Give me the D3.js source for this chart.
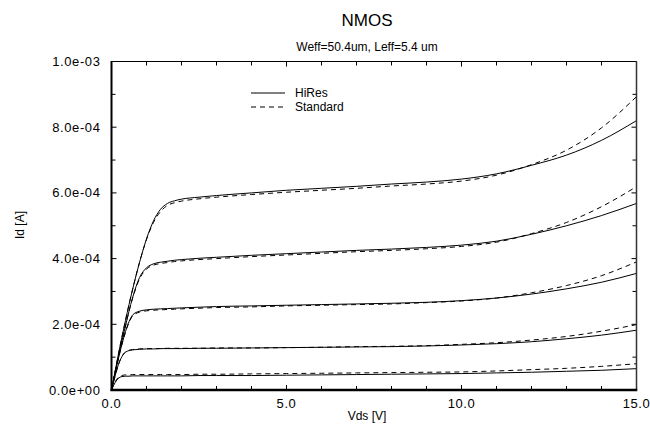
<!DOCTYPE html>
<html>
<head>
<meta charset="utf-8">
<script src="https://cdn.jsdelivr.net/npm/d3@7"></script>
<style>
  body { margin: 0; background: #fff; }
  svg text { font-family: "Liberation Sans", Arial, Helvetica, sans-serif; fill: #000; }
</style>
</head>
<body>
<div id="chart"></div>
<script>
// Vds sample points [V]
const vds = [0, 0.1, 0.2, 0.3, 0.4, 0.5, 0.6, 0.8, 1.0, 1.2, 1.4, 1.6, 1.8, 2.0, 2.5, 3, 4, 5, 6, 7, 8, 9, 10, 11, 12, 13, 14, 15];

// Id values in units of 1e-4 A, one array per gate voltage (top to bottom)
const hires1 = [0, 0.55, 1.1, 1.62, 2.12, 2.6, 3.05, 3.88, 4.6, 5.15, 5.5, 5.68, 5.76, 5.81, 5.87, 5.92, 6.0, 6.08, 6.14, 6.2, 6.27, 6.33, 6.42, 6.58, 6.84, 7.15, 7.6, 8.2];
const std1   = [0, 0.55, 1.1, 1.62, 2.12, 2.6, 3.05, 3.88, 4.58, 5.1, 5.43, 5.62, 5.7, 5.75, 5.82, 5.87, 5.95, 6.02, 6.08, 6.14, 6.21, 6.27, 6.36, 6.54, 6.86, 7.3, 7.98, 8.93];
const hires2 = [0, 0.52, 1.02, 1.5, 1.95, 2.4, 2.8, 3.42, 3.72, 3.84, 3.89, 3.92, 3.95, 3.97, 4.01, 4.04, 4.1, 4.15, 4.2, 4.25, 4.29, 4.34, 4.41, 4.53, 4.74, 5.0, 5.31, 5.68];
const std2   = [0, 0.52, 1.02, 1.5, 1.95, 2.4, 2.78, 3.38, 3.68, 3.8, 3.85, 3.88, 3.91, 3.93, 3.97, 4.0, 4.06, 4.11, 4.16, 4.21, 4.25, 4.3, 4.37, 4.5, 4.76, 5.1, 5.58, 6.19];
const hires3 = [0, 0.5, 0.97, 1.4, 1.78, 2.08, 2.28, 2.4, 2.44, 2.46, 2.47, 2.48, 2.49, 2.5, 2.52, 2.54, 2.56, 2.58, 2.6, 2.62, 2.64, 2.67, 2.72, 2.8, 2.92, 3.08, 3.28, 3.55];
const std3   = [0, 0.5, 0.97, 1.4, 1.76, 2.05, 2.25, 2.37, 2.41, 2.43, 2.44, 2.45, 2.46, 2.47, 2.49, 2.51, 2.53, 2.56, 2.58, 2.6, 2.62, 2.66, 2.71, 2.8, 2.96, 3.18, 3.48, 3.9];
const hires4 = [0, 0.42, 0.78, 1.02, 1.15, 1.2, 1.22, 1.24, 1.25, 1.25, 1.26, 1.26, 1.26, 1.26, 1.27, 1.27, 1.28, 1.29, 1.3, 1.31, 1.32, 1.34, 1.37, 1.41, 1.47, 1.56, 1.67, 1.82];
const std4   = [0, 0.42, 0.78, 1.03, 1.16, 1.21, 1.23, 1.25, 1.26, 1.26, 1.26, 1.27, 1.27, 1.27, 1.27, 1.28, 1.28, 1.29, 1.3, 1.32, 1.33, 1.35, 1.39, 1.44, 1.52, 1.63, 1.79, 1.99];
const hires5 = [0, 0.22, 0.36, 0.41, 0.42, 0.42, 0.43, 0.43, 0.43, 0.43, 0.43, 0.43, 0.43, 0.43, 0.44, 0.44, 0.44, 0.45, 0.46, 0.47, 0.48, 0.49, 0.5, 0.52, 0.54, 0.57, 0.6, 0.65];
const std5   = [0, 0.24, 0.39, 0.44, 0.46, 0.46, 0.47, 0.47, 0.47, 0.47, 0.47, 0.47, 0.47, 0.47, 0.48, 0.48, 0.49, 0.5, 0.51, 0.52, 0.53, 0.54, 0.55, 0.58, 0.62, 0.66, 0.72, 0.8];

const hiresSeries = [hires1, hires2, hires3, hires4, hires5];
const stdSeries = [std1, std2, std3, std4, std5];

const xMajorTicks = [0, 5, 10, 15];
const xMinorTicks = [1, 2, 3, 4, 6, 7, 8, 9, 11, 12, 13, 14];
const yMajorTicks = [0, 2e-4, 4e-4, 6e-4, 8e-4, 1e-3];
const yMinorTicks = [1e-4, 3e-4, 5e-4, 7e-4, 9e-4];
const xTickLabels = ['0.0', '5.0', '10.0', '15.0'];
const yTickLabels = ['0.0e+00', '2.0e-04', '4.0e-04', '6.0e-04', '8.0e-04', '1.0e-03'];

const legendItems = [
  { name: 'HiRes', dash: null },
  { name: 'Standard', dash: '5,4' }
];

const width = 650, height = 426;
const margin = { top: 61.5, right: 13.5, bottom: 36, left: 111.5 };
const plotW = width - margin.left - margin.right;
const plotH = height - margin.top - margin.bottom;

const svg = d3.select('#chart').append('svg')
  .attr('width', width)
  .attr('height', height);

const x = d3.scaleLinear().domain([0, 15]).range([0, plotW]);
const y = d3.scaleLinear().domain([0, 1e-3]).range([plotH, 0]);

const g = svg.append('g').attr('transform', `translate(${margin.left},${margin.top})`);

// clip curves to the plot area
svg.append('clipPath').attr('id', 'plotclip')
  .append('rect').attr('width', plotW).attr('height', plotH);

// Curves
const line = d3.line()
  .x((d, i) => x(vds[i]))
  .y(d => y(d * 1e-4))
  .curve(d3.curveMonotoneX);

const curves = g.append('g').attr('clip-path', 'url(#plotclip)');

curves.selectAll('.std')
  .data(stdSeries)
  .enter().append('path')
  .attr('class', 'std')
  .attr('d', line)
  .style('fill', 'none')
  .style('stroke', '#000')
  .style('stroke-width', 1)
  .style('stroke-dasharray', '5,4');

curves.selectAll('.hires')
  .data(hiresSeries)
  .enter().append('path')
  .attr('class', 'hires')
  .attr('d', line)
  .style('fill', 'none')
  .style('stroke', '#000')
  .style('stroke-width', 1);

// Ticks, all pointing inward
function tickLines(cls, vals, fn) {
  g.selectAll('.' + cls)
    .data(vals)
    .enter().append('line')
    .attr('class', cls)
    .each(function (d) {
      const c = fn(d);
      d3.select(this).attr('x1', c[0]).attr('y1', c[1]).attr('x2', c[2]).attr('y2', c[3]);
    })
    .style('stroke', '#000')
    .style('stroke-width', 1);
}

tickLines('xb', xMajorTicks, d => [x(d), plotH, x(d), plotH - 5]);
tickLines('xbm', xMinorTicks, d => [x(d), plotH, x(d), plotH - 4]);
tickLines('xt', xMajorTicks, d => [x(d), 0, x(d), 5]);
tickLines('xtm', xMinorTicks, d => [x(d), 0, x(d), 4]);
tickLines('yl', yMajorTicks, d => [0, y(d), 5, y(d)]);
tickLines('ylm', yMinorTicks, d => [0, y(d), 4, y(d)]);
tickLines('yr', yMajorTicks, d => [plotW, y(d), plotW - 5, y(d)]);
tickLines('yrm', yMinorTicks, d => [plotW, y(d), plotW - 4, y(d)]);

// Frame: left and bottom heavier
g.append('line').attr('x1', 0).attr('y1', 0).attr('x2', plotW).attr('y2', 0)
  .style('stroke', '#000').style('stroke-width', 1.2);
g.append('line').attr('x1', plotW).attr('y1', 0).attr('x2', plotW).attr('y2', plotH)
  .style('stroke', '#333').style('stroke-width', 1.5);
g.append('line').attr('x1', 0).attr('y1', -0.5).attr('x2', 0).attr('y2', plotH + 1)
  .style('stroke', '#000').style('stroke-width', 2);
g.append('line').attr('x1', -1).attr('y1', plotH).attr('x2', plotW + 0.75).attr('y2', plotH)
  .style('stroke', '#000').style('stroke-width', 2.5);

// Tick labels
g.selectAll('.xlabel')
  .data(xMajorTicks)
  .enter().append('text')
  .attr('class', 'xlabel')
  .attr('x', d => x(d))
  .attr('y', plotH + 18)
  .style('font-size', '13px')
  .style('letter-spacing', '0.6px')
  .style('text-anchor', 'middle')
  .text((d, i) => xTickLabels[i]);

g.selectAll('.ylabel')
  .data(yMajorTicks)
  .enter().append('text')
  .attr('class', 'ylabel')
  .attr('x', -11)
  .attr('y', d => y(d) + 4.5)
  .style('font-size', '13px')
  .style('letter-spacing', '0.6px')
  .style('text-anchor', 'end')
  .text((d, i) => yTickLabels[i]);

// Titles
svg.append('text')
  .attr('x', 367).attr('y', 26)
  .style('font-size', '17px')
  .style('text-anchor', 'middle')
  .text('NMOS');

svg.append('text')
  .attr('x', 367).attr('y', 51)
  .style('font-size', '12px')
  .style('text-anchor', 'middle')
  .text('Weff=50.4um, Leff=5.4 um');

svg.append('text')
  .attr('x', 367).attr('y', 420)
  .style('font-size', '12px')
  .style('text-anchor', 'middle')
  .text('Vds [V]');

svg.append('text')
  .attr('transform', 'translate(24,225) rotate(-90)')
  .style('font-size', '12px')
  .style('text-anchor', 'middle')
  .text('Id [A]');

// Legend
const legend = svg.append('g').attr('transform', 'translate(251,93)');
const legendItem = legend.selectAll('.legend-item')
  .data(legendItems)
  .enter().append('g')
  .attr('class', 'legend-item')
  .attr('transform', (d, i) => `translate(0, ${i * 14})`);

legendItem.append('line')
  .attr('x1', 0).attr('x2', 34).attr('y1', 0).attr('y2', 0)
  .style('stroke', '#000')
  .style('stroke-width', 1)
  .style('stroke-dasharray', d => d.dash);

legendItem.append('text')
  .attr('x', 44)
  .attr('y', 4)
  .style('font-size', '12px')
  .text(d => d.name);
</script>
</body>
</html>
